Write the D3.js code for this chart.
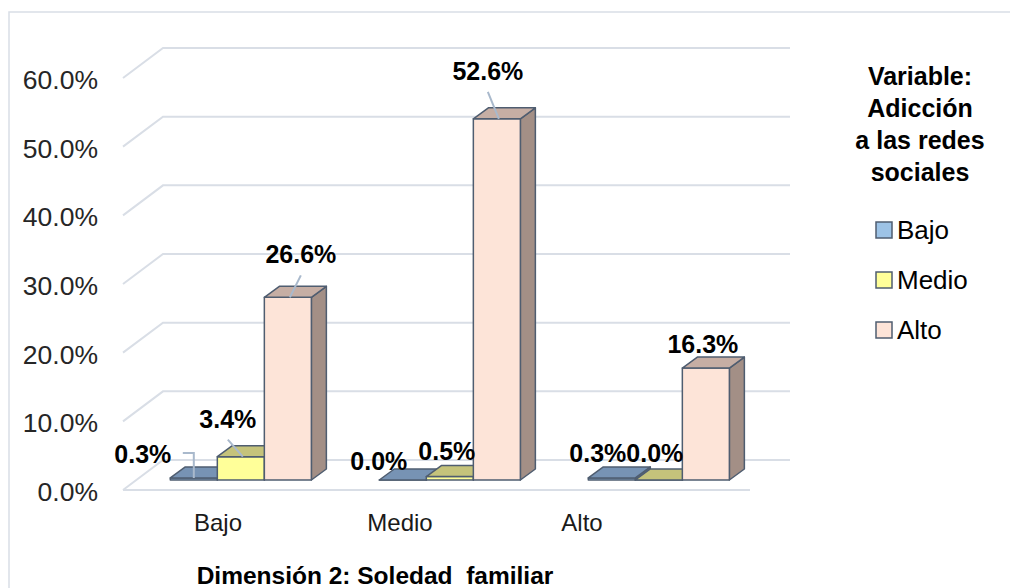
<!DOCTYPE html>
<html><head><meta charset="utf-8">
<script src="https://cdn.jsdelivr.net/npm/d3@7"></script>
<style>
body{margin:0;background:#fff}
svg{display:block;font-family:"Liberation Sans",Arial,sans-serif}
</style>
</head><body>
<svg id="c" width="1010" height="588"></svg>
<script>
// ---------- data ----------
const categories = ["Bajo", "Medio", "Alto"];          // Dimensión 2 levels
const series = ["Bajo", "Medio", "Alto"];              // Adicción levels
const valuesBajo  = [0.3, 0.0, 0.3];
const valuesMedio = [3.4, 0.5, 0.0];
const valuesAlto  = [26.6, 52.6, 16.3];
const tickValues = [0, 10, 20, 30, 40, 50, 60];
const tickLabels = ["0.0%", "10.0%", "20.0%", "30.0%", "40.0%", "50.0%", "60.0%"];
const legendTitle = ["Variable:", "Adicción", "a las redes", "sociales"];
const xTitle = "Dimensión 2: Soledad  familiar";

// ---------- layout / style ----------
const seriesValues = [valuesBajo, valuesMedio, valuesAlto];
const colors = {
  front: ["#9DC3E6", "#FFFF99", "#FDE4D8"],
  top:   ["#7793B4", "#C5C37B", "#C6AEA4"],
  side:  ["#5F7794", "#A3A165", "#A38F86"]
};
const outline = "#4F5D70";
const gridColor = "#D9DEE6";
// label positions relative to bar front-top centre (per category, per series)
const labelLayout = [
  [{dx:-51, dy:-15, leader:"elbow"}, {dx:-13, dy:-29, leader:"line"}, {dx:13, dy:-34, leader:"line"}],
  [{dx:-24, dy:-10}, {dx:-3, dy:-17}, {dx:-9, dy:-39, leader:"line"}],
  [{dx:-14, dy:-16}, {dx:-4, dy:-18}, {dx:-3, dy:-15}]
];

const svg = d3.select("#c");

// chart frame
svg.append("rect").attr("x", 9).attr("y", 12).attr("width", 1100).attr("height", 700)
  .attr("fill", "#fff").attr("stroke", "#D9DEE6").attr("stroke-width", 1.5);

// 3D geometry
const floorX0 = 123, floorX1 = 750;        // front edge of floor
const depthX = 40, depthY = -30;           // floor depth
const barPlane = 1/3;                      // bar front face depth fraction
const barDX = 15, barDY = -11;             // bar depth

const y = d3.scaleLinear().domain([0, 60]).range([490, 78]);   // front plane
const x0 = d3.scaleBand().domain(categories)
  .range([floorX0 + depthX*barPlane, floorX1 + depthX*barPlane])
  .paddingInner(0.325).paddingOuter(0.1625);
const x1 = d3.scaleBand().domain(series).range([0, x0.bandwidth()]);
const yBar = v => y(v) + depthY*barPlane;

// gridlines: side wall + back wall
const grid = svg.append("g").attr("stroke", gridColor).attr("stroke-width", 2).attr("fill", "none");
tickValues.forEach(t => {
  grid.append("path").attr("d", d3.line()([
    [floorX0, y(t)], [floorX0 + depthX, y(t) + depthY], [floorX1 + depthX, y(t) + depthY]
  ]));
});
// floor front edge
grid.append("line").attr("x1", floorX0).attr("x2", floorX1).attr("y1", y(0)).attr("y2", y(0));

// y axis labels
const yAxis = d3.axisLeft(y).tickValues(tickValues).tickSize(0).tickPadding(0)
  .tickFormat((d, i) => tickLabels[i]);
const ga = svg.append("g").attr("transform", "translate(98,2)").call(yAxis);
ga.select(".domain").remove();
ga.selectAll("text").attr("font-size", 26.5).attr("fill", "#262626")
  .attr("font-family", "Liberation Sans, Arial, sans-serif");

// bars
const bars = svg.append("g").attr("stroke", outline).attr("stroke-width", 1.5).attr("stroke-linejoin", "round");
categories.forEach((c, ci) => {
  series.forEach((s, si) => {
    const v = seriesValues[si][ci];
    const xl = x0(c) + x1(s), w = x1.bandwidth();
    const yt = yBar(v), yb = yBar(0);
    const g = bars.append("g");
    g.append("path").attr("fill", colors.side[si]).attr("d", d3.line()([
      [xl + w, yt], [xl + w + barDX, yt + barDY], [xl + w + barDX, yb + barDY], [xl + w, yb]
    ]) + "Z");
    g.append("path").attr("fill", colors.front[si]).attr("d", d3.line()([
      [xl, yt], [xl + w, yt], [xl + w, yb], [xl, yb]
    ]) + "Z");
    g.append("path").attr("fill", colors.top[si]).attr("d", d3.line()([
      [xl, yt], [xl + barDX, yt + barDY], [xl + w + barDX, yt + barDY], [xl + w, yt]
    ]) + "Z");
  });
});

// data labels + leader lines
const labels = svg.append("g");
const leaders = svg.append("g").attr("stroke", "#A9B9CC").attr("stroke-width", 2).attr("fill", "none");
categories.forEach((c, ci) => {
  series.forEach((s, si) => {
    const v = seriesValues[si][ci];
    const L = labelLayout[ci][si];
    const cx = x0(c) + x1(s) + x1.bandwidth()/2;
    const yt = yBar(v);
    const lx = cx + L.dx, ly = yt + L.dy;
    labels.append("text").attr("x", lx).attr("y", ly).attr("text-anchor", "middle")
      .attr("font-size", 25).attr("font-weight", "bold").attr("fill", "#000")
      .text(d3.format(".1f")(v) + "%");
    if (L.leader === "line") {
      leaders.append("path").attr("d", d3.line()([[lx, ly + 12], [cx + 2, yt]]));
    } else if (L.leader === "elbow") {
      leaders.append("path").attr("d", d3.line()([[lx + 40, ly - 10], [cx, ly - 10], [cx, yt]]));
    }
  });
});

// category axis
const xLab = d3.scaleBand().domain(categories).range([127, 673]);
const gx = svg.append("g").attr("transform", "translate(0,514)")
  .call(d3.axisBottom(xLab).tickSize(0).tickPadding(0));
gx.select(".domain").remove();
gx.selectAll("text").attr("font-size", 24).attr("fill", "#1a1a1a")
  .attr("font-family", "Liberation Sans, Arial, sans-serif");

// x title
svg.append("text").attr("x", 375).attr("y", 584).attr("text-anchor", "middle")
  .attr("font-size", 24.5).attr("font-weight", "bold").attr("fill", "#000")
  .style("white-space", "pre").text(xTitle);

// legend
const lg = svg.append("g");
legendTitle.forEach((t, i) => {
  lg.append("text").attr("x", 920).attr("y", 85 + i*32).attr("text-anchor", "middle")
    .attr("font-size", 25).attr("font-weight", "bold").attr("fill", "#000").text(t);
});
const lyS = d3.scalePoint().domain(series).range([230, 330]);
series.forEach((s, i) => {
  lg.append("rect").attr("x", 876).attr("y", lyS(s) - 8).attr("width", 16).attr("height", 16)
    .attr("fill", colors.front[i]).attr("stroke", outline).attr("stroke-width", 1.5);
  lg.append("text").attr("x", 897).attr("y", lyS(s)).attr("dy", "0.35em")
    .attr("font-size", 26).attr("fill", "#000").text(s);
});
</script>
</body></html>
